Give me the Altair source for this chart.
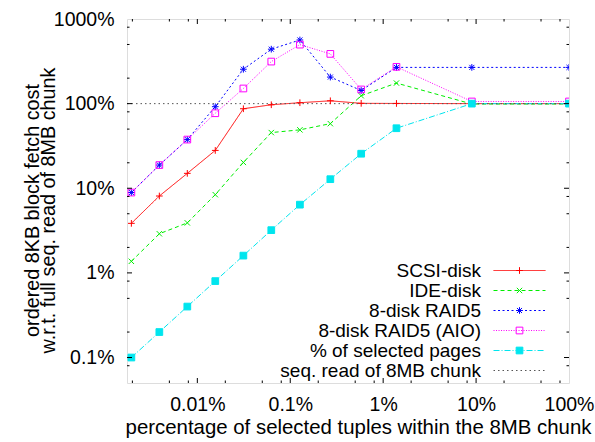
import altair as alt
import pandas as pd

# ---------------- data ----------------
x_pct = [0.00195, 0.0039, 0.0078, 0.0156, 0.0313, 0.0625, 0.127, 0.27, 0.58, 1.39, 9.0, 100]

series_names = ["SCSI-disk", "IDE-disk", "8-disk RAID5", "8-disk RAID5 (AIO)",
                "% of selected pages", "seq. read of 8MB chunk"]

scsi = [3.85, 8.1, 15.0, 28.0, 87.0, 97.0, 102.5, 108.0, 100.8, 100.5, 100.0, 100.0]
ide = [1.37, 2.9, 3.9, 8.4, 20.2, 45.5, 49.0, 58.0, 124.0, 175.0, 99.0, 99.0]
raid5 = [8.9, 18.8, 37.6, 92.0, 255.0, 440.0, 565.0, 206.0, 143.0, 268.0, 268.0, 268.0]
raid5_aio = [8.9, 18.8, 37.6, 77.0, 151.0, 314.0, 498.0, 387.0, 147.0, 272.0, 106.0, 106.0]
pages = [0.1, 0.2, 0.4, 0.8, 1.6, 3.2, 6.4, 12.8, 25.6, 51.2, 100.0, 100.0]

seq_x = [0.00175, 100]
seq_y = [100, 100]

x_ticks_major = [0.01, 0.1, 1, 10]
x_ticks_minor = [0.002, 0.005, 0.008, 0.02, 0.05, 0.08, 0.2, 0.5, 0.8,
                 2, 5, 8, 20, 50, 80]
y_ticks_major = [0.1, 1, 10, 100]
y_ticks_minor = [0.08, 0.2, 0.5, 0.8, 2, 5, 8, 20, 50, 80, 200, 500, 800]

x_label_values = [0.01, 0.1, 1, 10, 100]
y_label_values = [0.1, 1, 10, 100, 1000]

# ---------------- styles ----------------
colors = ["#ff0000", "#00ee00", "#0000ff", "#ff00ff", "#00e5ee", "#555555"]
dashes = [[1, 0], [4, 3], [2, 2.5], [1, 1.5], [6, 2, 1, 2], [1.5, 3]]
shape_paths = [
    "M-1,0L1,0M0,-1L0,1",                                  # +
    "M-0.8,-0.8L0.8,0.8M-0.8,0.8L0.8,-0.8",                # x
    "M-1,0L1,0M0,-1L0,1M-0.75,-0.75L0.75,0.75M-0.75,0.75L0.75,-0.75",  # *
    "square",
    "square",
]
fills = ["transparent", "transparent", "transparent", "transparent", "#00e5ee"]

FONT = "Liberation Sans"
FS = 19.5
LFS = 19
TFS = 20.4
YTFS = 19.8
W, H = 442, 364

rows = []
for name, ys in zip(series_names[:5], [scsi, ide, raid5, raid5_aio, pages]):
    for i, (xv, yv) in enumerate(zip(x_pct, ys)):
        rows.append({"series": name, "x": xv, "y": yv, "order": i})
pts_df = pd.DataFrame(rows)
seq_rows = [{"series": series_names[5], "x": xv, "y": yv, "order": i}
            for i, (xv, yv) in enumerate(zip(seq_x, seq_y))]
line_df = pd.concat([pts_df, pd.DataFrame(seq_rows)], ignore_index=True)

xscale = alt.Scale(type="log", domain=[0.00175, 100], nice=False)
yscale = alt.Scale(type="log", domain=[0.05, 1000], nice=False)

x_axis = alt.Axis(values=x_label_values, labelExpr="datum.value + '%'",
                  title="percentage of selected tuples within the 8MB chunk",
                  grid=False, ticks=False, tickSize=0, domain=False,
                  labelFontSize=FS, labelPadding=12, labelFont=FONT,
                  labelColor="black", labelFlush=False, labelOverlap=False,
                  titleFontSize=TFS, titleFont=FONT, titleFontWeight="normal",
                  titleColor="black", titleX=231, titleY=50,
                  titleBaseline="alphabetic", titleAlign="center")
y_axis = alt.Axis(values=y_label_values, labelExpr="datum.value + '%'",
                  title=["ordered 8KB block fetch cost", "w.r.t. full seq. read of 8MB chunk"],
                  grid=False, ticks=False, tickSize=0, domain=False,
                  labelFontSize=FS, labelPadding=13, labelFont=FONT,
                  labelColor="black", labelFlush=False, labelOverlap=False,
                  titleFontSize=YTFS, titleFont=FONT, titleFontWeight="normal",
                  titleColor="black", titleX=-105, titleY=191,
                  titleBaseline="top", titleAlign="center", titleLineHeight=16.5,
                  titleAngle=270)

LEG_X = 383
LEG_Y = 242
line_legend = alt.Legend(orient="none", legendX=LEG_X, legendY=LEG_Y, title=None,
                         padding=0, rowPadding=0,
                         labelFont=FONT, labelFontSize=LFS, labelColor="black",
                         labelAlign="right", labelLimit=0,
                         labelOffset={"expr": "-48"},
                         symbolType="M-3,0L3,0", symbolSize=300, symbolStrokeWidth=1)
point_legend = alt.Legend(orient="none", legendX=LEG_X, legendY=LEG_Y, title=None,
                          padding=0, rowPadding=0,
                          labelFont=FONT, labelFontSize=LFS, labelExpr="''",
                          symbolSize=45, symbolStrokeWidth=1)

lines = alt.Chart(line_df).mark_line(strokeWidth=1, clip=True).encode(
    x=alt.X("x:Q", scale=xscale, axis=x_axis),
    y=alt.Y("y:Q", scale=yscale, axis=y_axis),
    stroke=alt.Stroke("series:N", scale=alt.Scale(domain=series_names, range=colors),
                      legend=line_legend),
    strokeDash=alt.StrokeDash("series:N", scale=alt.Scale(domain=series_names, range=dashes),
                              legend=line_legend),
    order="order:Q",
)

points = alt.Chart(pts_df).mark_point(filled=False, strokeWidth=1, size=45,
                                      opacity=1, clip=True).encode(
    x=alt.X("x:Q", scale=xscale, axis=x_axis),
    y=alt.Y("y:Q", scale=yscale, axis=y_axis),
    stroke=alt.Stroke("series:N", scale=alt.Scale(domain=series_names[:5], range=colors[:5]),
                      legend=point_legend),
    fill=alt.Fill("series:N", scale=alt.Scale(domain=series_names[:5], range=fills),
                  legend=point_legend),
    shape=alt.Shape("series:N", scale=alt.Scale(domain=series_names[:5], range=shape_paths),
                    legend=point_legend),
)


def xtick_layer(vals, length):
    d = pd.DataFrame({"v": vals})
    b = alt.Chart(d).mark_rule(color="black", strokeWidth=1)
    bottom = b.encode(x=alt.X("v:Q", scale=xscale, axis=x_axis),
                      y=alt.value(H), y2=alt.value(H - length))
    top = b.encode(x=alt.X("v:Q", scale=xscale, axis=x_axis),
                   y=alt.value(0), y2=alt.value(length))
    return [bottom, top]


def ytick_layer(vals, length):
    d = pd.DataFrame({"v": vals})
    b = alt.Chart(d).mark_rule(color="black", strokeWidth=1)
    left = b.encode(y=alt.Y("v:Q", scale=yscale, axis=y_axis),
                    x=alt.value(0), x2=alt.value(length))
    right = b.encode(y=alt.Y("v:Q", scale=yscale, axis=y_axis),
                     x=alt.value(W), x2=alt.value(W - length))
    return [left, right]


tick_layers = (xtick_layer(x_ticks_major, 5) + xtick_layer(x_ticks_minor, 2.5)
               + ytick_layer(y_ticks_major, 5) + ytick_layer(y_ticks_minor, 2.5))

chart = alt.layer(lines, points, *tick_layers).resolve_scale(
    stroke="independent", strokeDash="independent", fill="independent",
    shape="independent"
).resolve_legend(
    stroke="independent", strokeDash="independent", fill="independent",
    shape="independent"
).properties(
    width=W, height=H,
    autosize=alt.AutoSizeParams(type="none"),
    padding={"left": 127, "top": 19, "right": 26, "bottom": 59},
    background="white",
).configure_view(
    stroke="black", strokeWidth=1
).configure(font=FONT)

chart.save("out.html", embed_options={"renderer": "svg", "actions": False})
